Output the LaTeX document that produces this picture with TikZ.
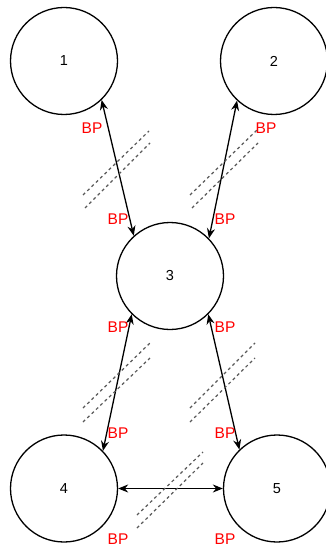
\documentclass[tikz,border=0pt]{standalone}
\usepackage{fontspec}
\setmainfont{Liberation Sans}
\usetikzlibrary{arrows.meta}
\begin{document}
\begin{tikzpicture}[x=1pt,y=-1pt,
  site/.style={circle,draw=black,line width=1.3pt,minimum size=107pt,inner sep=0pt,
    font=\fontsize{14.5}{16}\selectfont},
  link/.style={line width=1.3pt,{Stealth[length=10pt,width=8pt]}-{Stealth[length=10pt,width=8pt]}},
  bp/.style={text=red,font=\fontsize{15.5}{17}\selectfont,inner sep=0pt},
  cut/.style={draw=black!65,line width=1.2pt,dash pattern=on 3pt off 3pt}]
\useasboundingbox (0,0) rectangle (326,548);
\begin{scope}
\clip (0,0) rectangle (326,548);
% sites
\node[site] (s1) at (64,61) {1};
\node[site] (s2) at (274,61) {2};
\node[site] (s3) at (170,276) {3};
\node[site] (s4) at (64,488.5) {4};
\node[site] (s5) at (277,488.5) {5};
% links between sites
\draw[link] (s1.-46) -- (s3.132);
\draw[link] (s2.-133) -- (s3.44);
\draw[link] (s3.-135) -- (s4.44);
\draw[link] (s3.-45) -- (s5.134);
\draw[link] (s4.east) -- (s5.west);
% broken-link marks
\draw[cut] (83,195) -- (149,131);
\draw[cut] (85,208) -- (150,143);
\draw[cut] (190,195) -- (257,130);
\draw[cut] (192,208) -- (258,143);
\draw[cut] (83,408) -- (150,343);
\draw[cut] (83,422) -- (150,358);
\draw[cut] (190,408) -- (255,343);
\draw[cut] (190,422) -- (255,358);
\draw[cut] (137,515) -- (203,452);
\draw[cut] (137,528) -- (203,463);
% BP labels
\node[bp] (b13a) at (92,128) {BP};
\node[bp] (b13b) at (118,219) {BP};
\node[bp] (b23a) at (266,128) {BP};
\node[bp] (b23b) at (225,219) {BP};
\node[bp] (b34a) at (118,327) {BP};
\node[bp] (b35a) at (225,327) {BP};
\node[bp] (b34b) at (118,433) {BP};
\node[bp] (b35b) at (225,433) {BP};
\node[bp] (b45a) at (118,539) {BP};
\node[bp] (b45b) at (225,539) {BP};
\end{scope}
\end{tikzpicture}
\end{document}
